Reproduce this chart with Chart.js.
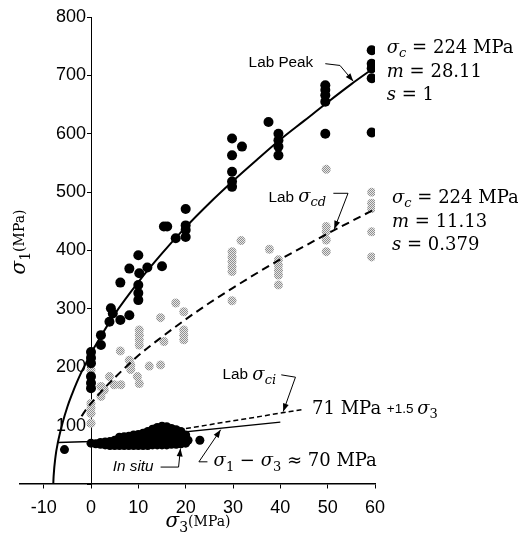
<!DOCTYPE html>
<html>
<head>
<meta charset="utf-8">
<script src="https://cdn.jsdelivr.net/npm/chart.js@4/dist/chart.umd.min.js"></script>
<style>
  body { margin: 0; background: #fff; }
  #wrap { width: 518px; height: 544px; }
</style>
</head>
<body>
<div id="wrap"><canvas id="hb"></canvas></div>
<script>
// lab peak strength (black dots)
const peakS3 = [0, 0, 0, 0, 0, 0, 2.1, 2.1, 3.9, 4.2, 4.6, 6.2, 6.2, 8.1, 8.1, 10, 10.2, 10, 10, 10, 11.9, 15,
  15.4, 16.1, 17.9, 20, 20, 20, 20, 29.8, 29.8, 29.8, 29.8, 29.8, 31.9, 37.5, 39.6, 39.6, 39.6, 39.6,
  49.5, 49.5, 49.5, 49.5, 49.5, 59.3, 59.3, 59.3, 59.3, 59.3];
const peakS1 = [226, 216, 207, 184, 173, 164, 255, 238, 278, 301, 292, 281, 345, 289, 369, 392, 361, 341, 327, 315, 371, 373,
  441, 441, 421, 471, 443, 435, 423, 592, 563, 535, 518, 509, 578, 620, 600, 589, 578, 563,
  683, 675, 666, 655, 600, 743, 720, 712, 695, 602];

// lab damage stress sigma_cd (grey dots)
const cdS3 = [0, 0, 0, 0, 0, 2.1, 2.8, 2.1, 3.9, 4.9, 6.3, 6.2, 8.1, 8.4, 8.4, 9.8, 10.2, 10.2, 10.2, 10.2, 10.2,
  12.3, 14.7, 14.7, 15.4, 17.9, 19.6, 19.6, 19.6, 19.6, 29.8, 29.8, 29.8, 29.8, 29.8, 29.8, 31.7, 37.7,
  39.6, 39.6, 39.6, 39.6, 39.6, 49.7, 49.7, 49.7, 49.7, 49.7, 59.3, 59.3, 59.3, 59.3, 59.3];
const cdS1 = [195, 138, 130, 121, 104, 167, 161, 150, 184, 170, 170, 228, 212, 204, 196, 184, 172, 264, 255, 247, 238,
  202, 204, 285, 244, 310, 295, 264, 255, 247, 314, 398, 389, 381, 372, 364, 417, 402,
  384, 375, 366, 358, 341, 539, 441, 432, 418, 398, 500, 481, 472, 432, 389];

// in situ estimates (dense black cloud)
const inSituS3 = [-5.6, 0, 1, 2, 2, 3, 3, 4, 4, 5, 5, 6, 6, 6, 7, 7, 7, 8, 8, 8, 9, 9, 9, 9,
  10, 10, 10, 10, 11, 11, 11, 11, 12, 12, 12, 12, 12, 13, 13, 13, 13, 13, 14, 14, 14, 14, 14, 14,
  15, 15, 15, 15, 15, 15, 16, 16, 16, 16, 16, 16, 17, 17, 17, 17, 17, 18, 18, 18, 18, 18,
  19, 19, 19, 19, 20, 20, 20, 20.5, 23];
const inSituS1 = [59, 70, 69, 68, 71, 67, 72, 66, 73, 66, 75, 66, 73, 80, 66, 74, 81, 66, 74, 82, 66, 73, 80, 84,
  66, 73, 80, 85, 66, 73, 80, 87, 66, 73, 80, 87, 90, 67, 74, 81, 88, 94, 67, 74, 81, 88, 95, 97,
  67, 74, 81, 88, 95, 99, 67, 74, 81, 88, 95, 98, 68, 75, 82, 89, 95, 68, 75, 82, 89, 93,
  69, 76, 83, 90, 70, 77, 84, 75, 75];

// fitted envelopes
const peakCurveS3 = [-7.97, -7.9, -7.5, -7, -6, -5, -4, -3, -2, -1, 0, 2, 5, 10, 15, 20, 25, 30, 35, 40, 45, 50, 55, 60];
const peakCurveS1 = [0, 13, 47, 71, 105, 132, 154, 174, 192, 208, 224, 252, 291, 346, 395, 440, 481, 519, 555, 590, 622, 654, 685, 714];
const cdCurveS3 = [-2, -1, 0, 2, 5, 10, 15, 20, 25, 30, 35, 40, 45, 50, 55, 60];
const cdCurveS1 = [116, 128, 138, 157, 182, 220, 252, 282, 310, 336, 361, 385, 407, 429, 450, 471];
const ciLineS3 = [0, 20, 45];
const ciLineS1 = [71, 95, 128];
const inSituLineS3 = [-7, 0, 40];
const inSituLineS1 = [71, 73, 106];

const xTicks = [-10, 0, 10, 20, 30, 40, 50, 60];
const yTicks = [0, 100, 200, 300, 400, 500, 600, 700, 800];

const pts = (xs, ys) => xs.map((x, i) => ({ x: x, y: ys[i] }));

// dithered grey like the printed figure
const pc = document.createElement('canvas');
pc.width = 2; pc.height = 2;
const pctx = pc.getContext('2d');
pctx.fillStyle = '#e6e6e6'; pctx.fillRect(0, 0, 2, 2);
pctx.fillStyle = '#909090'; pctx.fillRect(0, 0, 1, 1); pctx.fillRect(1, 1, 1, 1);
const greyDots = pctx.createPattern(pc, 'repeat');

const SERIF = '"DejaVu Serif"';
const SANS = '"Liberation Sans"';

function fontFor(kind, size) {
  switch (kind) {
    case 'i': return ['italic ' + size + 'px ' + SERIF, 0];
    case 'si': return ['italic ' + Math.round(size * 0.7) + 'px ' + SERIF, size * 0.3];
    case 'sr': return [Math.round(size * 0.7) + 'px ' + SERIF, size * 0.3];
    case 'sm': return [Math.round(size * 0.72) + 'px ' + SERIF, 0];
    case 's': return [size * 0.85 + 'px ' + SANS, 0];
    case 'ss': return [size * 0.75 + 'px ' + SANS, -size * 0.02];
    case 'it': return ['italic ' + size * 0.85 + 'px ' + SANS, 0];
    default: return [size + 'px ' + SERIF, 0];
  }
}

function runWidth(ctx, parts, size) {
  let w = 0;
  parts.forEach(([t, k]) => { ctx.font = fontFor(k, size)[0]; w += ctx.measureText(t).width; });
  return w;
}

function drawRun(ctx, x, y, parts, size) {
  parts.forEach(([t, k]) => {
    const [f, dy] = fontFor(k, size);
    ctx.font = f;
    ctx.fillText(t, x, y + dy);
    x += ctx.measureText(t).width;
  });
}

function leader(ctx, pp) {
  ctx.beginPath();
  ctx.moveTo(pp[0][0], pp[0][1]);
  pp.slice(1).forEach(p => ctx.lineTo(p[0], p[1]));
  ctx.stroke();
  const a = pp[pp.length - 1], b = pp[pp.length - 2];
  const ang = Math.atan2(a[1] - b[1], a[0] - b[0]);
  ctx.beginPath();
  ctx.moveTo(a[0], a[1]);
  ctx.lineTo(a[0] - 8 * Math.cos(ang) + 3 * Math.sin(ang), a[1] - 8 * Math.sin(ang) - 3 * Math.cos(ang));
  ctx.lineTo(a[0] - 8 * Math.cos(ang) - 3 * Math.sin(ang), a[1] - 8 * Math.sin(ang) + 3 * Math.cos(ang));
  ctx.closePath();
  ctx.fill();
}

const notes = {
  id: 'notes',
  afterDraw(chart) {
    const ctx = chart.ctx, xs = chart.scales.x, ys = chart.scales.y;
    const P = (a, b) => [xs.getPixelForValue(a), ys.getPixelForValue(b)];
    const text = (a, b, parts, size) => { const p = P(a, b); drawRun(ctx, p[0], p[1], parts, size); };
    ctx.save();
    ctx.fillStyle = '#000';
    ctx.strokeStyle = '#000';
    ctx.lineWidth = 1;
    ctx.textBaseline = 'middle';
    ctx.textAlign = 'left';

    // Lab Peak
    text(33.3, 721, [['Lab Peak', 's']], 18);
    leader(ctx, [P(49.5, 720), P(52.6, 717), P(55.4, 690)]);
    text(62.5, 746, [['σ', 'i'], ['c', 'si'], [' = 224 MPa', 'r']], 18);
    text(62.5, 706, [['m', 'i'], [' = 28.11', 'r']], 18);
    text(62.5, 666, [['s', 'i'], [' = 1', 'r']], 18);

    // Lab sigma_cd
    text(37.5, 491, [['Lab ', 's'], ['σ', 'i'], ['cd', 'si']], 18);
    leader(ctx, [P(51.2, 498), P(54.3, 498), P(51.4, 437)]);
    text(63.6, 489, [['σ', 'i'], ['c', 'si'], [' = 224 MPa', 'r']], 18);
    text(63.6, 449, [['m', 'i'], [' = 11.13', 'r']], 18);
    text(63.6, 409, [['s', 'i'], [' = 0.379', 'r']], 18);

    // Lab sigma_ci
    text(27.8, 187, [['Lab ', 's'], ['σ', 'i'], ['ci', 'si']], 18);
    leader(ctx, [P(40.2, 187), P(43.2, 183), P(40.6, 124)]);
    text(46.7, 128, [['71 MPa ', 'r'], ['+1.5 ', 'ss'], ['σ', 'i'], ['3', 'sr']], 18);

    // in situ
    text(4.6, 29, [['In situ', 'it']], 18);
    leader(ctx, [P(14.7, 29), P(18.5, 29), P(18.9, 61)]);
    text(25.9, 38, [['σ', 'i'], ['1', 'sr'], [' − ', 'r'], ['σ', 'i'], ['3', 'sr'], [' ≈ 70 MPa', 'r']], 18);
    leader(ctx, [P(24.6, 38), P(22.8, 38), P(27.4, 93)]);

    // axis titles
    const xt = [['σ', 'i'], ['3', 'sr'], ['(MPa)', 'sm']];
    drawRun(ctx, 198 - runWidth(ctx, xt, 20) / 2, 522, xt, 20);
    const yt = [['σ', 'i'], ['1', 'sr'], ['(MPa)', 'sm']];
    ctx.translate(20, 242);
    ctx.rotate(-Math.PI / 2);
    drawRun(ctx, -runWidth(ctx, yt, 20) / 2, 0, yt, 20);
    ctx.restore();
  }
};

new Chart(document.getElementById('hb'), {
  type: 'scatter',
  data: {
    datasets: [
      { data: pts(inSituS3, inSituS1), backgroundColor: '#000', borderWidth: 0, pointRadius: 4.5 },
      { data: pts(peakS3, peakS1), backgroundColor: '#000', borderWidth: 0, pointRadius: 5 },
      { data: pts(peakCurveS3, peakCurveS1), showLine: true, borderColor: '#000', borderWidth: 2,
        pointRadius: 0, cubicInterpolationMode: 'monotone' },
      { data: pts(cdCurveS3, cdCurveS1), showLine: true, borderColor: '#000', borderWidth: 2,
        borderDash: [8, 5], pointRadius: 0, cubicInterpolationMode: 'monotone' },
      { data: pts(cdS3, cdS1), backgroundColor: greyDots, borderWidth: 0, pointRadius: 4.5 },
      { data: pts(ciLineS3, ciLineS1), showLine: true, borderColor: '#000', borderWidth: 1.5,
        borderDash: [5, 3], pointRadius: 0 },
      { data: pts(inSituLineS3, inSituLineS1), showLine: true, borderColor: '#000', borderWidth: 1.5,
        pointRadius: 0 }
    ]
  },
  options: {
    responsive: true,
    maintainAspectRatio: false,
    animation: false,
    devicePixelRatio: 1,
    layout: { padding: { left: 20, right: 143, top: 17, bottom: 60 } },
    plugins: { legend: { display: false }, tooltip: { enabled: false } },
    scales: {
      x: {
        type: 'linear', min: -15, max: 60, position: { y: 0 },
        afterBuildTicks: s => { s.ticks = xTicks.map(v => ({ value: v })); },
        grid: { drawOnChartArea: false, tickLength: 4, color: '#000' },
        border: { color: '#000', width: 1.5 },
        ticks: { color: '#000', padding: 9, font: { family: 'Liberation Sans', size: 18 } }
      },
      y: {
        type: 'linear', min: 0, max: 800, position: { x: 0 },
        afterBuildTicks: s => { s.ticks = yTicks.map(v => ({ value: v })); },
        grid: { drawOnChartArea: false, tickLength: 4, color: '#000' },
        border: { color: '#000', width: 1 },
        // labels on a value-positioned axis ignore padding, so keep a gap with a trailing space
        ticks: { color: '#000', font: { family: 'Liberation Sans', size: 18 },
          callback: v => (v === 0 ? '' : v + ' ') }
      }
    }
  },
  plugins: [notes]
});
</script>
</body>
</html>
